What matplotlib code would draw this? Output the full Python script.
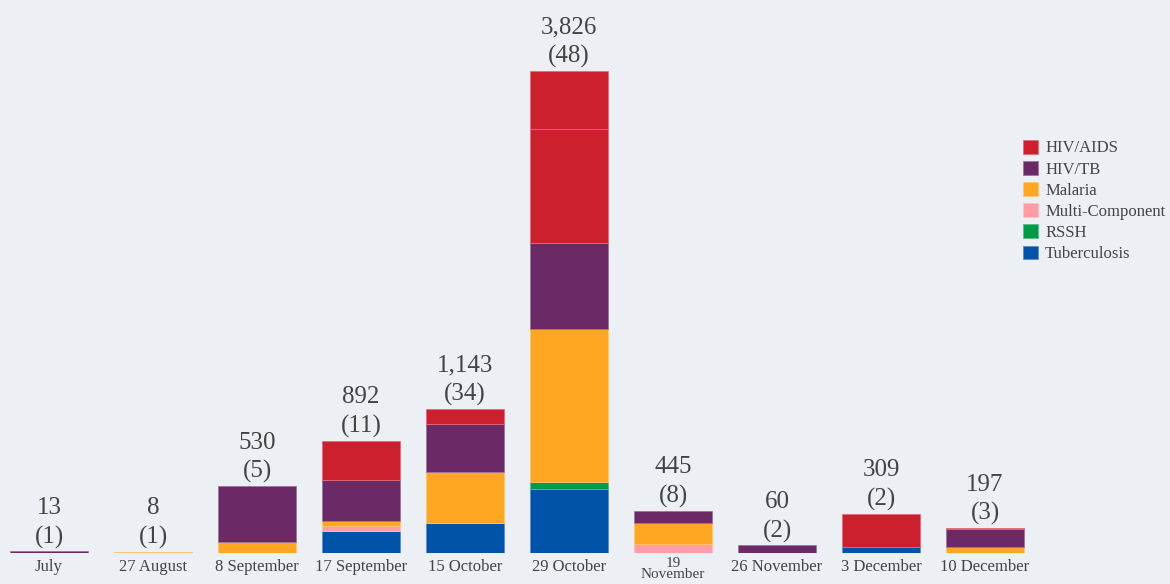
import matplotlib
matplotlib.use("Agg")
import matplotlib.pyplot as plt
import matplotlib.colors as mcolors
import numpy as np

# bar labels
dates = ["July", "27 August", "8 September", "17 September", "15 October",
         "29 October", "19\nNovember", "26 November", "3 December", "10 December"]
totals = ["13", "8", "530", "892", "1,143", "3,826", "445", "60", "309", "197"]
counts = ["(1)", "(1)", "(5)", "(11)", "(34)", "(48)", "(8)", "(2)", "(2)", "(3)"]

# stacked values, bottom to top
tuberculosis    = [0, 0, 0, 177, 242, 506, 0, 0, 51, 0]
rssh            = [0, 0, 0, 0, 0, 56, 0, 0, 0, 0]
multi_component = [0, 0, 0, 35, 0, 0, 72, 0, 0, 0]
malaria         = [0, 8, 90, 40, 404, 1215, 164, 0, 0, 48]
hiv_tb          = [13, 0, 440, 325, 375, 683, 101, 60, 0, 146]
hiv_aids        = [0, 0, 0, 315, 122, 906, 0, 0, 258, 3]
hiv_aids_2      = [0, 0, 0, 0, 0, 460, 0, 0, 0, 0]   # second HIV/AIDS grant on 29 Oct

colors = {
    "Tuberculosis": "#0053A8",
    "RSSH": "#009B48",
    "Multi-Component": "#FF9DA4",
    "Malaria": "#FFA722",
    "HIV/TB": "#6B2A66",
    "HIV/AIDS": "#CE1F2E",
}
bg = "#ECEFF4"
txt = "#444444"

plt.rcParams['font.family'] = ['Liberation Serif', 'DejaVu Serif']

fig = plt.figure(figsize=(11.7, 5.84), dpi=100, facecolor=bg)
ax = fig.add_axes([0, 31 / 584, 1, 553 / 584])
ax.set_facecolor(bg)

x = np.arange(len(dates))
bottom = np.zeros(len(dates))
series = [("Tuberculosis", tuberculosis), ("RSSH", rssh),
          ("Multi-Component", multi_component), ("Malaria", malaria),
          ("HIV/TB", hiv_tb), ("HIV/AIDS", hiv_aids), ("_HIV/AIDS", hiv_aids_2)]
handles = {}
for name, vals in series:
    vals = np.array(vals, dtype=float)
    col = colors[name.lstrip("_")]
    rgb = np.array(mcolors.to_rgb(col))
    edge = rgb + (1 - rgb) * 0.35   # lighter outline like the original
    nz = vals > 0   # skip empty segments so their outlines don't show
    b = ax.bar(x[nz], vals[nz], 0.75, bottom=bottom[nz], color=col,
               edgecolor=edge, linewidth=0.6, label=name)
    if not name.startswith("_"):
        handles[name] = b
    bottom += vals

for i in range(len(dates)):
    ax.annotate(totals[i] + "\n" + counts[i], (x[i], bottom[i]),
                xytext=(0, 2), textcoords="offset points",
                ha="center", va="bottom", fontsize=18, color=txt,
                linespacing=1.38)

ax.set_xlim(-49 / 104, -49 / 104 + 1170 / 104)
ax.set_ylim(0, 553 * 7.938)
ax.set_xticks(x)
ax.set_xticklabels(dates, fontsize=12, color=txt, linespacing=0.8)
ax.tick_params(axis="x", length=0, pad=4)
# the wrapped label has to fit above the bottom edge
wrapped = ax.get_xticklabels()[6]
wrapped.set_fontsize(11)
wrapped.set_y(0.003)
ax.set_yticks([])
for s in ax.spines.values():
    s.set_visible(False)

order = ["HIV/AIDS", "HIV/TB", "Malaria", "Multi-Component", "RSSH", "Tuberculosis"]
leg = fig.legend([handles[n] for n in order], order, loc="upper left",
                 bbox_to_anchor=(1016 / 1170, 1 - 133 / 584), frameon=False,
                 fontsize=12, handlelength=0.9, handleheight=0.9,
                 handletextpad=0.45, labelspacing=0.27, borderaxespad=0)
for t in leg.get_texts():
    t.set_color(txt)

fig.savefig("out.png", dpi=100, facecolor=bg)
